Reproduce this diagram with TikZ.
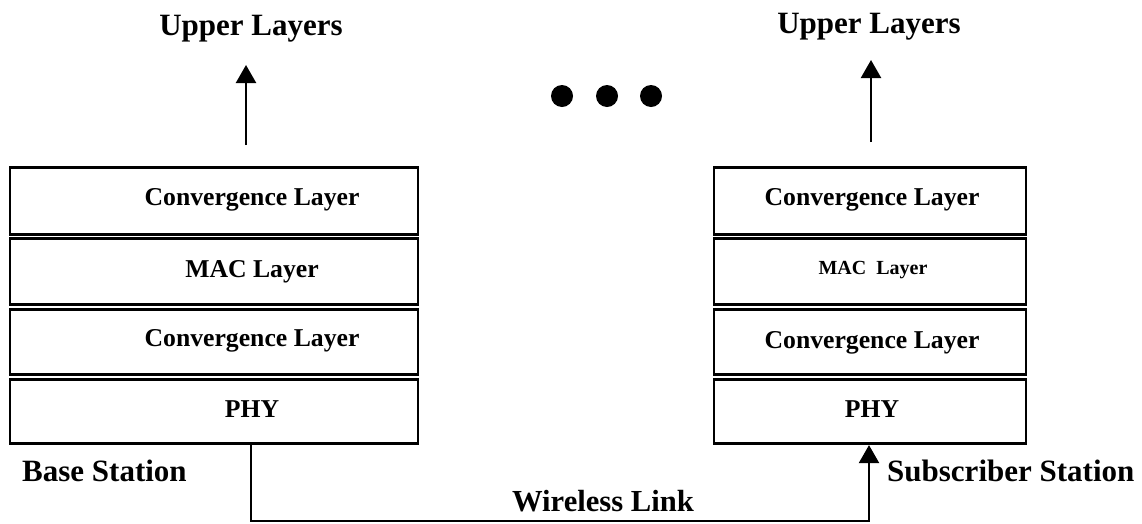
\documentclass[tikz,border=0pt]{standalone}
\usepackage{fontspec}
\setmainfont{Liberation Serif}
\usetikzlibrary{arrows.meta}
\begin{document}
\begin{tikzpicture}[x=1pt,y=-1pt,
  layerbox/.style={draw, line width=2.7pt, inner sep=0pt},
  lbox/.style={layerbox, minimum width=408pt},
  rbox/.style={layerbox, minimum width=312pt},
  boxtext/.style={anchor=base, inner sep=0pt, font=\fontsize{25.7}{30}\selectfont\bfseries},
  smalltext/.style={anchor=base, inner sep=0pt, font=\fontsize{20}{24}\selectfont\bfseries},
  bigtext/.style={inner sep=0pt, font=\fontsize{31}{36}\selectfont\bfseries},
  conn/.style={line width=2.3pt},
  tip/.style={-{Triangle[length=18pt,width=20pt]}},
  dotmark/.style={circle, fill=black, minimum size=22pt, inner sep=0pt}]
\useasboundingbox (0,0) rectangle (1142,523);

% left stack
\node[lbox, minimum height=66.5pt] (l1) at (214,201) {};
\node[lbox, minimum height=66.5pt] (l2) at (214,271.5) {};
\node[lbox, minimum height=64.5pt] (l3) at (214,342) {};
\node[lbox, minimum height=64.5pt] (l4) at (214,411.5) {};
\node[boxtext] (l1t) at (252,205) {Convergence Layer};
\node[boxtext] (l2t) at (252,277) {MAC Layer};
\node[boxtext] (l3t) at (252,346) {Convergence Layer};
\node[boxtext] (l4t) at (252,417) {PHY};

% right stack
\node[rbox, minimum height=66.5pt] (r1) at (870,201) {};
\node[rbox, minimum height=66.5pt] (r2) at (870,271.5) {};
\node[rbox, minimum height=64.5pt] (r3) at (870,342) {};
\node[rbox, minimum height=64.5pt] (r4) at (870,411.5) {};
\node[boxtext] (r1t) at (872,205) {Convergence Layer};
\node[smalltext] (r2t) at (873,274) {MAC\ \ Layer};
\node[boxtext] (r3t) at (872,348) {Convergence Layer};
\node[boxtext] (r4t) at (872,417) {PHY};

% upper layers
\node[bigtext, anchor=base] (ul) at (251,35) {Upper Layers};
\node[bigtext, anchor=base] (ur) at (869,33) {Upper Layers};
\coordinate (ula) at (246,145);
\coordinate (ulb) at (246,65);
\coordinate (ura) at (871,142);
\coordinate (urb) at (871,60);
\draw[conn, tip] (ula) -- (ulb);
\draw[conn, tip] (ura) -- (urb);

% dots
\node[dotmark] (d1) at (562,96) {};
\node[dotmark] (d2) at (607,96) {};
\node[dotmark] (d3) at (651,96) {};

% stations
\node[bigtext, anchor=base west] (bs) at (22,481) {Base Station};
\node[bigtext, anchor=base west] (ss) at (887,481) {Subscriber Station};

% wireless link
\coordinate (wl) at (251,521);
\coordinate (wr) at (869,521);
\draw[conn, tip] (l4.south -| wl) -- (wl) -- (wr) -- (r4.south -| wr);
\node[bigtext, anchor=base, font=\fontsize{30.6}{36}\selectfont\bfseries] (wlt) at (603,511) {Wireless Link};
\end{tikzpicture}
\end{document}
